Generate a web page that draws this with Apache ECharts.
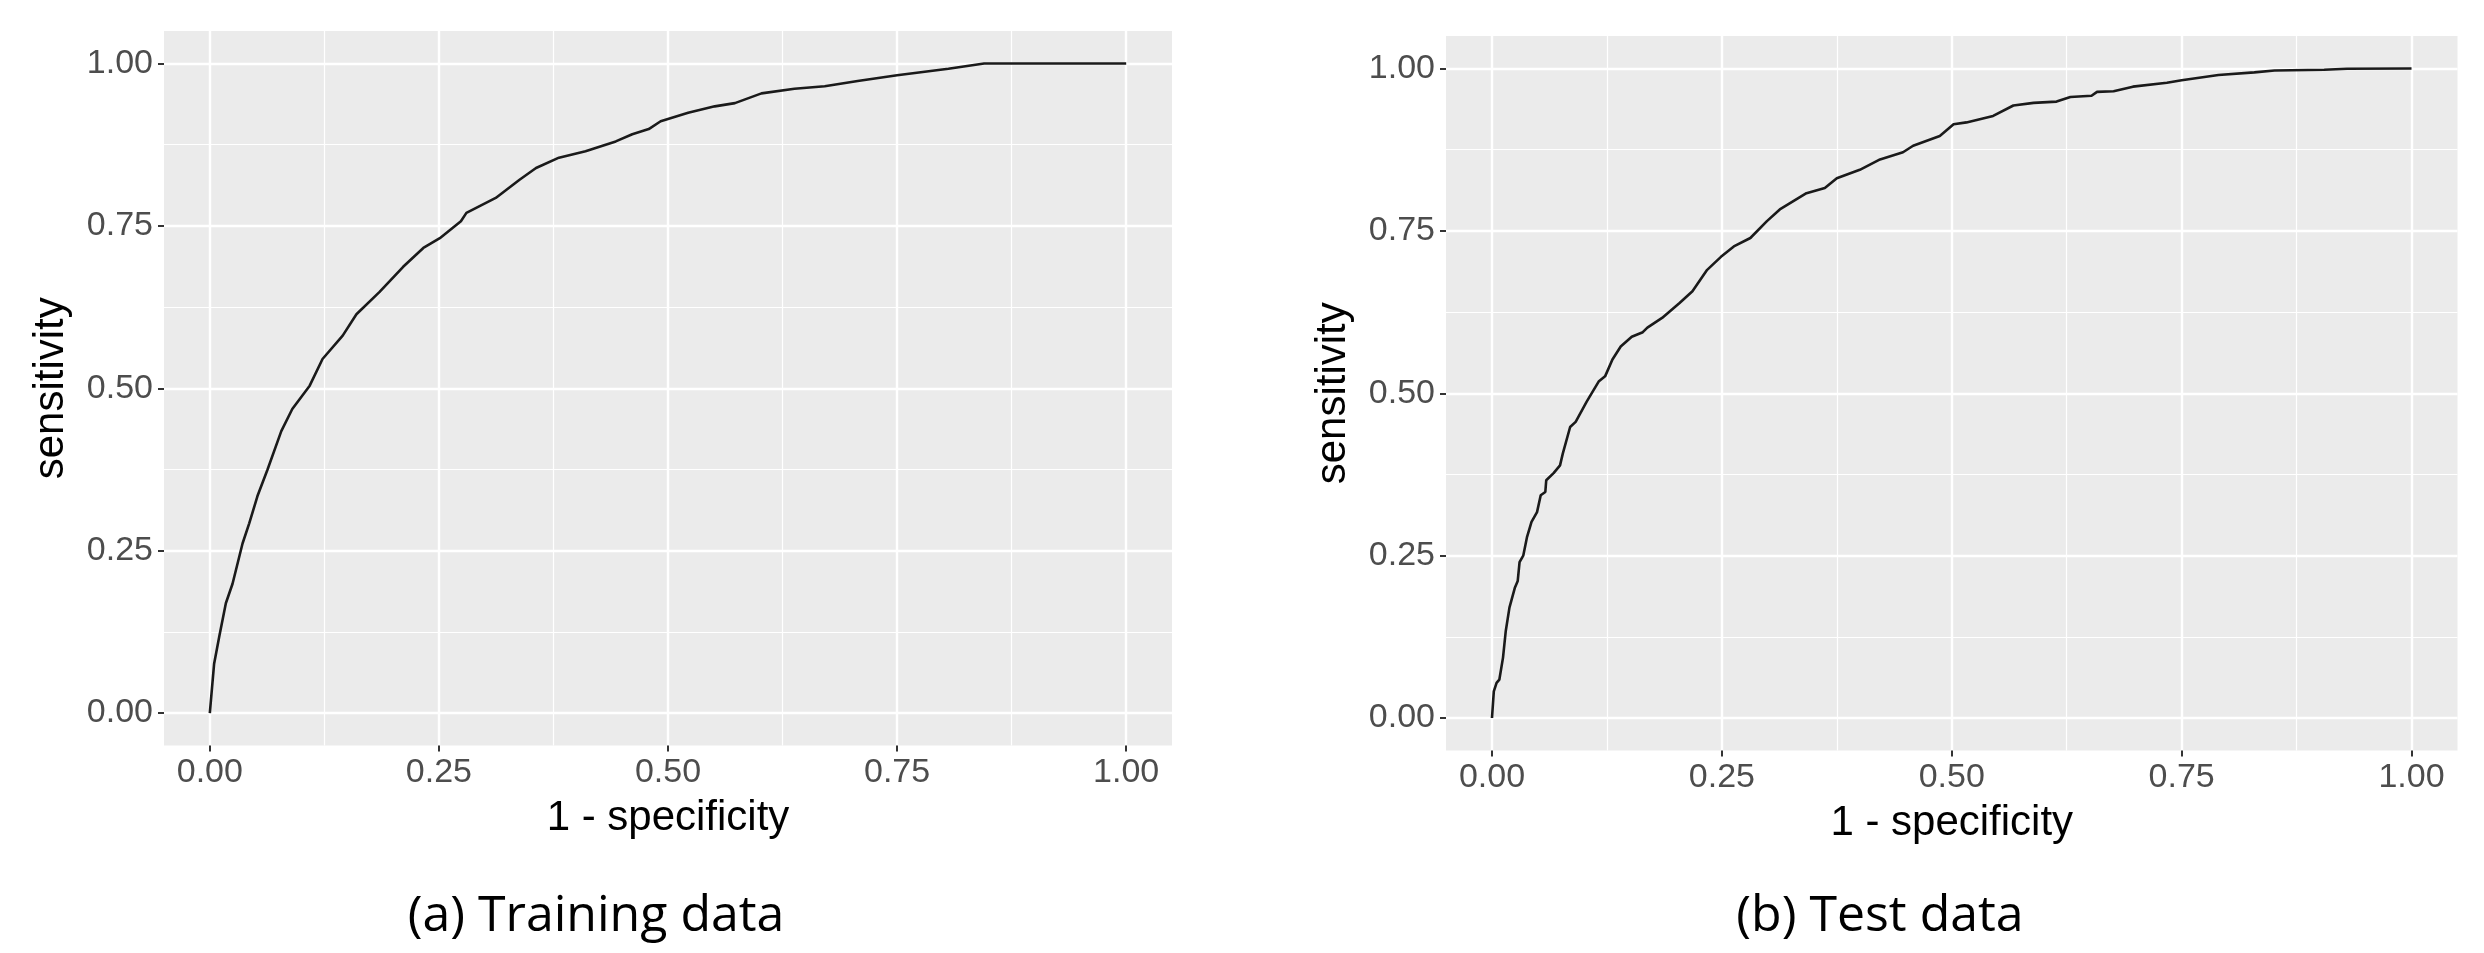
<!DOCTYPE html>
<html>
<head>
<meta charset="utf-8">
<script src="https://cdn.jsdelivr.net/npm/echarts@6/dist/echarts.min.js"></script>
<style>
html,body{margin:0;padding:0;background:#fff;}
#chart{width:2484px;height:953px;}
</style>
</head>
<body>
<div id="chart"></div>
<script>
// ---- data ----
const majorTicks = [0, 0.25, 0.5, 0.75, 1];
const minorTicks = [0.125, 0.375, 0.625, 0.875];
const xTitle = '1 - specificity';
const yTitle = 'sensitivity';
const captions = ['(a) Training data', '(b) Test data'];

const trainX = [0,0.0047,0.0102,0.0175,0.0248,0.0357,0.043,0.052,0.063,0.078,0.090,0.109,0.123,0.145,0.160,0.185,0.211,0.233,0.251,0.274,0.280,0.312,0.338,0.356,0.381,0.410,0.443,0.461,0.479,0.492,0.522,0.551,0.573,0.602,0.638,0.671,0.707,0.750,0.806,0.845,1.0];
const trainY = [0,0.076,0.117,0.169,0.199,0.261,0.292,0.334,0.375,0.434,0.468,0.504,0.545,0.581,0.614,0.648,0.687,0.716,0.731,0.757,0.770,0.793,0.821,0.839,0.855,0.865,0.880,0.891,0.899,0.911,0.924,0.934,0.939,0.954,0.961,0.965,0.973,0.982,0.992,1.0,1.0];

const testX = [0,0.002,0.005,0.008,0.012,0.015,0.019,0.025,0.028,0.030,0.034,0.038,0.043,0.049,0.053,0.058,0.059,0.067,0.074,0.077,0.085,0.091,0.103,0.116,0.123,0.131,0.140,0.152,0.164,0.169,0.185,0.204,0.218,0.234,0.249,0.263,0.281,0.299,0.313,0.342,0.362,0.375,0.400,0.422,0.447,0.458,0.487,0.502,0.516,0.545,0.567,0.589,0.614,0.629,0.652,0.658,0.676,0.697,0.734,0.750,0.790,0.829,0.851,0.905,0.930,1.0];
const testY = [0,0.041,0.054,0.059,0.093,0.134,0.170,0.201,0.211,0.240,0.250,0.278,0.302,0.317,0.343,0.348,0.366,0.377,0.389,0.407,0.448,0.456,0.487,0.518,0.526,0.552,0.572,0.587,0.594,0.601,0.616,0.639,0.657,0.690,0.710,0.726,0.739,0.765,0.783,0.808,0.816,0.831,0.844,0.860,0.871,0.881,0.896,0.914,0.917,0.927,0.943,0.947,0.949,0.956,0.958,0.964,0.965,0.972,0.978,0.982,0.990,0.994,0.997,0.998,0.9995,1.0];

// ---- styling ----
const tickFont = {fontFamily: '"Liberation Sans", Arial, sans-serif', fontSize: 34, color: '#4D4D4D'};
const titleFont = {fontFamily: '"Liberation Sans", Arial, sans-serif', fontSize: 42, color: '#000'};
const panelBg = '#EBEBEB';

function zip(xs, ys){ return xs.map((x,i)=>[x, ys[i]]); }

function majorAxis(gridIndex, isX){
  return {
    type: 'value', gridIndex, min: -0.05, max: 1.05,
    position: isX ? 'bottom' : 'left',
    name: isX ? xTitle : yTitle,
    nameLocation: 'middle',
    nameGap: isX ? 52 : 92,
    nameTextStyle: titleFont,
    axisLine: {show: false, onZero: false},
    axisTick: {show: true, inside: false, length: 6, customValues: majorTicks, lineStyle: {color: '#333333', width: 2}},
    axisLabel: {show: true, customValues: majorTicks, margin: isX ? 10 : 11, formatter: v => v.toFixed(2), ...tickFont},
    splitLine: {show: true, lineStyle: {color: '#FFFFFF', width: 2.4}},
    z: 2
  };
}
function minorAxis(gridIndex, isX){
  return {
    type: 'value', gridIndex, min: -0.05, max: 1.05,
    position: isX ? 'top' : 'right',
    axisLine: {show: false, onZero: false},
    axisTick: {show: false, customValues: minorTicks},
    axisLabel: {show: false, customValues: minorTicks},
    splitLine: {show: true, lineStyle: {color: '#FFFFFF', width: 1.2}},
    z: 1
  };
}

const chart = echarts.init(document.getElementById('chart'), null, {renderer: 'canvas'});
chart.setOption({
  animation: false,
  backgroundColor: '#FFFFFF',
  grid: [
    {left: 164, top: 31, width: 1008, height: 714.5, show: true, backgroundColor: panelBg, borderWidth: 0},
    {left: 1446, top: 36, width: 1011.5, height: 714.5, show: true, backgroundColor: panelBg, borderWidth: 0}
  ],
  xAxis: [majorAxis(0,true), minorAxis(0,true), majorAxis(1,true), minorAxis(1,true)],
  yAxis: [majorAxis(0,false), minorAxis(0,false), majorAxis(1,false), minorAxis(1,false)],
  series: [
    {type: 'line', xAxisIndex: 0, yAxisIndex: 0, data: zip(trainX, trainY), showSymbol: false, silent: true,
     lineStyle: {color: '#1A1A1A', width: 2.6}, z: 5},
    {type: 'line', xAxisIndex: 2, yAxisIndex: 2, data: zip(testX, testY), showSymbol: false, silent: true,
     lineStyle: {color: '#1A1A1A', width: 2.6}, z: 5}
  ],
  graphic: [
    {type: 'text', x: 596, y: 917, style: {text: captions[0], font: '50px "Open Sans", "Noto Sans", sans-serif', fill: '#000', align: 'center', verticalAlign: 'middle'}},
    {type: 'text', x: 1880, y: 917, style: {text: captions[1], font: '50px "Open Sans", "Noto Sans", sans-serif', fill: '#000', align: 'center', verticalAlign: 'middle'}}
  ]
});
</script>
</body>
</html>
